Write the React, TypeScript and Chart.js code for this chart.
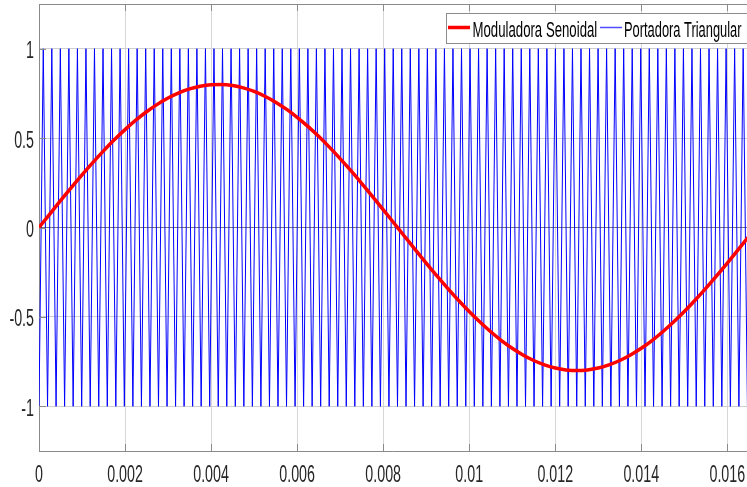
import React, { useEffect, useRef } from "react";
import { Chart, registerables } from "chart.js";

Chart.register(...registerables);

// Modulating sine: sample times (ms) and values
const sineTimesMs = [
  0, 0.25, 0.5, 0.75, 1, 1.25, 1.5, 1.75, 2, 2.25, 2.5, 2.75, 3, 3.25, 3.5, 3.75,
  4, 4.25, 4.5, 4.75, 5, 5.25, 5.5, 5.75, 6, 6.25, 6.5, 6.75, 7, 7.25, 7.5, 7.75,
  8, 8.25, 8.5, 8.75, 9, 9.25, 9.5, 9.75, 10, 10.25, 10.5, 10.75, 11, 11.25, 11.5, 11.75,
  12, 12.25, 12.5, 12.75, 13, 13.25, 13.5, 13.75, 14, 14.25, 14.5, 14.75, 15, 15.25, 15.5, 15.75,
  16, 16.25, 16.5,
];
const sineValues = [
  0, 0.0753, 0.1499, 0.2232, 0.2945, 0.3632, 0.4287, 0.4903, 0.5476, 0.6001, 0.6472, 0.6886,
  0.7239, 0.7527, 0.7749, 0.7902, 0.7984, 0.7996, 0.7937, 0.7807, 0.7608, 0.7342, 0.701, 0.6617,
  0.6164, 0.5657, 0.5099, 0.4497, 0.3854, 0.3177, 0.2472, 0.1745, 0.1003, 0.0251, -0.0502, -0.1251,
  -0.199, -0.271, -0.3406, -0.4072, -0.4702, -0.529, -0.5832, -0.6321, -0.6755, -0.7128, -0.7438, -0.7682,
  -0.7858, -0.7964, -0.8, -0.7964, -0.7858, -0.7682, -0.7438, -0.7128, -0.6755, -0.6321, -0.5832, -0.529,
  -0.4702, -0.4072, -0.3406, -0.271, -0.199, -0.1251, -0.0502,
];

// Triangular carrier: vertex times (µs) of the valleys (-1) and peaks (+1)
const carrierValleysUs = [
  0, 198.4, 396.8, 595.2, 793.7, 992.1, 1190.5, 1388.9, 1587.3, 1785.7, 1984.1, 2182.5, 2381.0,
  2579.4, 2777.8, 2976.2, 3174.6, 3373.0, 3571.4, 3769.8, 3968.3, 4166.7, 4365.1, 4563.5, 4761.9,
  4960.3, 5158.7, 5357.1, 5555.6, 5754.0, 5952.4, 6150.8, 6349.2, 6547.6, 6746.0, 6944.4, 7142.9,
  7341.3, 7539.7, 7738.1, 7936.5, 8134.9, 8333.3, 8531.7, 8730.2, 8928.6, 9127.0, 9325.4, 9523.8,
  9722.2, 9920.6, 10119.0, 10317.5, 10515.9, 10714.3, 10912.7, 11111.1, 11309.5, 11507.9, 11706.3,
  11904.8, 12103.2, 12301.6, 12500.0, 12698.4, 12896.8, 13095.2, 13293.7, 13492.1, 13690.5, 13888.9,
  14087.3, 14285.7, 14484.1, 14682.5, 14881.0, 15079.4, 15277.8, 15476.2, 15674.6, 15873.0, 16071.4,
  16269.8, 16468.3, 16666.7,
];
const carrierPeaksUs = [
  99.2, 297.6, 496.0, 694.4, 892.9, 1091.3, 1289.7, 1488.1, 1686.5, 1884.9, 2083.3, 2281.7, 2480.2,
  2678.6, 2877.0, 3075.4, 3273.8, 3472.2, 3670.6, 3869.0, 4067.5, 4265.9, 4464.3, 4662.7, 4861.1,
  5059.5, 5257.9, 5456.3, 5654.8, 5853.2, 6051.6, 6250.0, 6448.4, 6646.8, 6845.2, 7043.7, 7242.1,
  7440.5, 7638.9, 7837.3, 8035.7, 8234.1, 8432.5, 8631.0, 8829.4, 9027.8, 9226.2, 9424.6, 9623.0,
  9821.4, 10019.8, 10218.3, 10416.7, 10615.1, 10813.5, 11011.9, 11210.3, 11408.7, 11607.1, 11805.6,
  12004.0, 12202.4, 12400.8, 12599.2, 12797.6, 12996.0, 13194.4, 13392.9, 13591.3, 13789.7, 13988.1,
  14186.5, 14384.9, 14583.3, 14781.7, 14980.2, 15178.6, 15377.0, 15575.4, 15773.8, 15972.2, 16170.6,
  16369.0, 16567.5,
];
const carrierLow = -1;
const carrierHigh = 1;

const xTicks = [0, 0.002, 0.004, 0.006, 0.008, 0.01, 0.012, 0.014, 0.016];
const yTicks = [-1, -0.5, 0, 0.5, 1];
const xRange = [0, 0.016458];
const yRange = [-1.25, 1.25];

const seriesNames = ["Moduladora Senoidal", "Portadora Triangular"];

const FONT = "'Liberation Sans', Arial, Helvetica, sans-serif";
const AXIS_COLOR = "#8a8a8a";
const TEXT_COLOR = "#262626";
const CONDENSE = 0.62;

// Draws text squeezed horizontally (narrow face look)
function narrowText(ctx: CanvasRenderingContext2D, text: string, x: number, y: number, align: CanvasTextAlign, squeeze: number) {
  ctx.save();
  ctx.translate(x, y);
  ctx.scale(squeeze, 1);
  ctx.textAlign = align;
  ctx.textBaseline = "alphabetic";
  ctx.fillText(text, 0, 0);
  ctx.restore();
}

const framePlugin = {
  id: "frame",
  afterDatasetsDraw(chart: any) {
    const { ctx, chartArea, scales } = chart;
    const { left, right, top, bottom } = chartArea;
    ctx.save();
    ctx.strokeStyle = AXIS_COLOR;
    ctx.lineWidth = 1;
    ctx.beginPath();
    ctx.moveTo(left, top + 0.5);
    ctx.lineTo(right, top + 0.5);
    ctx.stroke();
    // inward tick marks
    const tl = 7;
    ctx.beginPath();
    for (const v of xTicks) {
      const px = Math.round(scales.x.getPixelForValue(v)) + 0.5;
      ctx.moveTo(px, bottom);
      ctx.lineTo(px, bottom - tl);
      ctx.moveTo(px, top);
      ctx.lineTo(px, top + tl);
    }
    for (const v of yTicks) {
      const py = Math.round(scales.y.getPixelForValue(v)) + 0.5;
      ctx.moveTo(left, py);
      ctx.lineTo(left + tl, py);
    }
    ctx.stroke();

    // tick labels
    ctx.fillStyle = TEXT_COLOR;
    ctx.font = `23px ${FONT}`;
    for (const v of xTicks) {
      const px = scales.x.getPixelForValue(v);
      narrowText(ctx, String(v), px, bottom + 30.5, "center", CONDENSE);
    }
    for (const v of yTicks) {
      const py = scales.y.getPixelForValue(v);
      narrowText(ctx, String(v), left - 5, py + 9.5, "right", CONDENSE);
    }
    ctx.restore();
  },
  afterDraw(chart: any) {
    const { ctx } = chart;
    const boxX = 446.5;
    const boxY = 13.5;
    const boxH = 30;
    const lineY = 27.5;
    ctx.save();
    ctx.fillStyle = "#ffffff";
    ctx.fillRect(boxX, boxY, 320, boxH);
    ctx.strokeStyle = "#8c8c8c";
    ctx.lineWidth = 1;
    ctx.strokeRect(boxX, boxY, 320, boxH);

    ctx.font = `22px ${FONT}`;
    ctx.fillStyle = "#000000";
    // red sample + label
    ctx.strokeStyle = "#ff0000";
    ctx.lineWidth = 3.5;
    ctx.beginPath();
    ctx.moveTo(448, lineY);
    ctx.lineTo(470, lineY);
    ctx.stroke();
    narrowText(ctx, seriesNames[0], 472.5, 36.7, "left", 0.6);
    // blue sample + label
    ctx.strokeStyle = "#4d4dff";
    ctx.lineWidth = 1.5;
    ctx.beginPath();
    ctx.moveTo(600, lineY);
    ctx.lineTo(622, lineY);
    ctx.stroke();
    narrowText(ctx, seriesNames[1], 624, 36.7, "left", 0.585);
    ctx.restore();
  },
};

export default function App() {
  const canvasRef = useRef<HTMLCanvasElement | null>(null);

  useEffect(() => {
    const canvas = canvasRef.current;
    if (!canvas) return;

    const sinePoints = sineTimesMs.map((t, i) => ({ x: t / 1000, y: sineValues[i] }));
    const carrierPoints = [
      ...carrierValleysUs.map((t) => ({ x: t / 1e6, y: carrierLow })),
      ...carrierPeaksUs.map((t) => ({ x: t / 1e6, y: carrierHigh })),
    ].sort((a, b) => a.x - b.x);

    const chart = new Chart(canvas, {
      type: "line",
      data: {
        datasets: [
          {
            label: seriesNames[0],
            data: sinePoints,
            borderColor: "#ff0000",
            borderWidth: 3.5,
            pointRadius: 0,
            cubicInterpolationMode: "monotone",
          },
          {
            label: seriesNames[1],
            data: carrierPoints,
            borderColor: "#0000ff",
            borderWidth: 1,
            pointRadius: 0,
            tension: 0,
          },
        ],
      },
      options: {
        responsive: false,
        animation: false,
        devicePixelRatio: 1,
        parsing: false,
        normalized: true,
        layout: { padding: { left: 0, right: 0, top: 4, bottom: 0 } },
        plugins: { legend: { display: false }, tooltip: { enabled: false } },
        scales: {
          x: {
            type: "linear",
            min: xRange[0],
            max: xRange[1],
            afterBuildTicks: (scale: any) => {
              scale.ticks = xTicks.map((v) => ({ value: v }));
            },
            afterFit: (scale: any) => {
              scale.height = 36;
              scale.paddingLeft = 0;
              scale.paddingRight = 0;
              scale.paddingTop = 0;
              scale.paddingBottom = 0;
            },
            ticks: { display: false, autoSkip: false, maxRotation: 0 },
            grid: { color: "#d6d6d6", drawTicks: false },
            border: { color: AXIS_COLOR },
          },
          y: {
            type: "linear",
            min: yRange[0],
            max: yRange[1],
            afterBuildTicks: (scale: any) => {
              scale.ticks = yTicks.map((v) => ({ value: v }));
            },
            afterFit: (scale: any) => {
              scale.width = 39;
              scale.paddingLeft = 0;
              scale.paddingRight = 0;
              scale.paddingTop = 0;
              scale.paddingBottom = 0;
            },
            ticks: { display: false, autoSkip: false },
            grid: {
              color: (c: any) => (c.tick && c.tick.value === 0 ? "#7a7a7a" : "#cfcfcf"),
              drawTicks: false,
            },
            border: { color: AXIS_COLOR },
          },
        },
      },
      plugins: [framePlugin],
    } as any);

    return () => chart.destroy();
  }, []);

  return (
    <div style={{ position: "fixed", left: 0, top: 0, width: 747, height: 487, background: "#fff", overflow: "hidden" }}>
      <canvas ref={canvasRef} width={747} height={487} style={{ display: "block" }} />
    </div>
  );
}
